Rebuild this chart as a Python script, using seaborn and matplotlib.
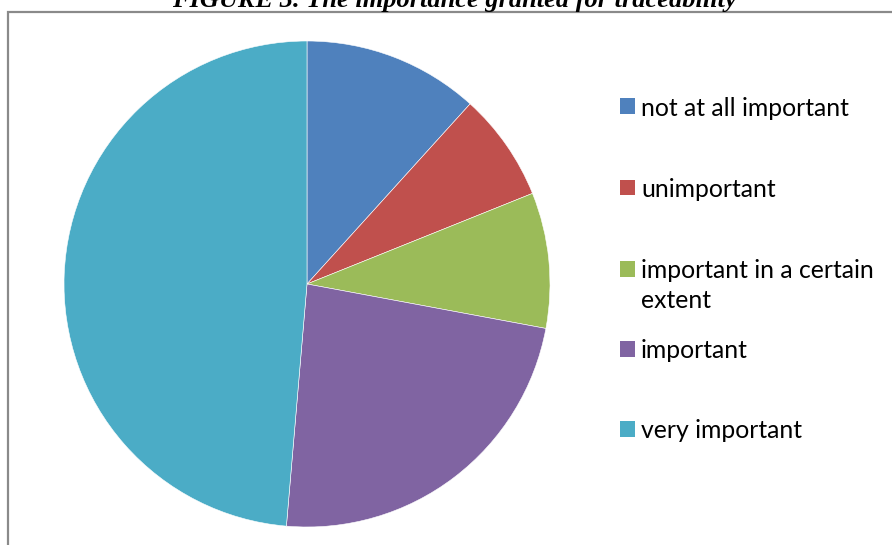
import matplotlib
matplotlib.use("Agg")
import matplotlib.pyplot as plt
from matplotlib.patches import Rectangle
import seaborn as sns

# Survey answers: how important is traceability
categories = ["not at all important", "unimportant", "important in a certain\nextent",
              "important", "very important"]
responses = [13, 8, 10, 26, 54]
colors = ["#4F81BD", "#C0504D", "#9BBB59", "#8064A2", "#4BACC6"]
title = "FIGURE 3. The importance granted for traceability"

sns.set_theme(style="white")
plt.rcParams["font.family"] = ["Lato", "DejaVu Sans"]

W, H = 892, 545
fig = plt.figure(figsize=(W / 100, H / 100), dpi=100)
fig.patch.set_facecolor("white")

def fx(px):
    return px / W

def fy(py):
    return 1 - py / H

# chart frame
fig.patches.append(Rectangle((fx(8), fy(600)), fx(1000) - fx(8), fy(12) - fy(600),
                             transform=fig.transFigure, fill=False,
                             edgecolor="#8a8a8a", linewidth=1.6))

# title (sits above the chart frame, at the very top of the page)
fig.text(fx(454), fy(7), title, ha="center", va="baseline",
         fontfamily="Liberation Serif", fontweight="bold", fontstyle="italic",
         fontsize=19, color="black")

# pie
cx, cy, r = 307, 284, 243
ax = fig.add_axes([fx(cx - r), fy(cy + r), fx(2 * r), fy(cy - r) - fy(cy + r)])
sns.despine(ax=ax, left=True, bottom=True)
ax.pie(responses, colors=colors, startangle=90, counterclock=False, radius=1,
       wedgeprops=dict(edgecolor="white", linewidth=0.4))
ax.set_xlim(-1, 1)
ax.set_ylim(-1, 1)
ax.set_aspect("equal")
ax.axis("off")

# legend
legend_y = [106, 187, 269, 349, 429]
line_step = 30
for label, color, ly in zip(categories, colors, legend_y):
    fig.patches.append(Rectangle((fx(620), fy(ly + 7.5)), fx(15), fy(ly - 7.5) - fy(ly + 7.5),
                                 transform=fig.transFigure, facecolor=color,
                                 edgecolor="none"))
    for i, line in enumerate(label.split("\n")):
        fig.text(fx(641), fy(ly + i * line_step), line, ha="left", va="center_baseline",
                 fontsize=17.8, color="black")

fig.savefig("out.png", dpi=100, facecolor="white")
